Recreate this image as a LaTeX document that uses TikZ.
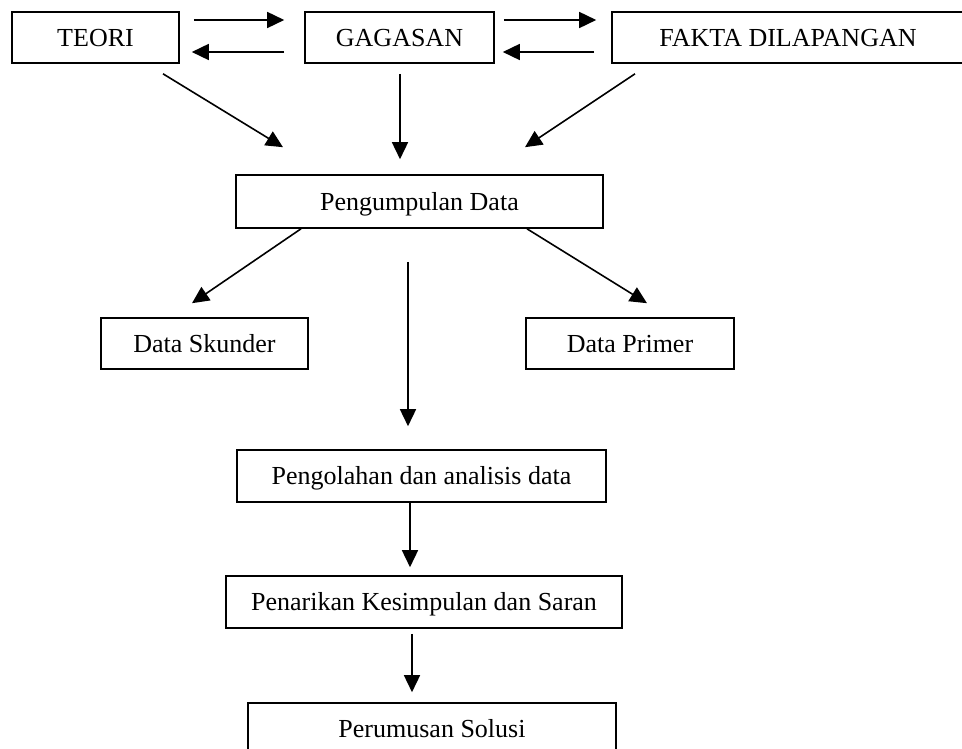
\documentclass[tikz,border=0pt]{standalone}
\usepackage{fontspec}
\setmainfont{Liberation Serif}
\usetikzlibrary{arrows.meta,calc}
\tikzset{
  box/.style={draw=black,line width=1.6pt,inner sep=0pt,minimum height=52pt,
    text height=17.2pt,text depth=0pt,font=\fontsize{26}{30}\selectfont},
  arr/.style={line width=1.6pt,-{Triangle[length=17pt,width=16pt]}}
}
\begin{document}
\begin{tikzpicture}[x=1pt,y=-1pt]
\useasboundingbox (0,0) rectangle (962,749);
\clip (0,0) rectangle (962,749);
\node[box,minimum width=167pt,minimum height=51pt] (teori) at (95.5,37.5) {TEORI};
\node[box,minimum width=189pt,minimum height=51pt] (gag) at (399.5,37.5) {GAGASAN};
\node[box,minimum width=352pt,minimum height=51pt] (fakta) at (788,37.5) {FAKTA DILAPANGAN};
\node[box,minimum width=367pt,minimum height=53pt] (pk) at (419.5,201.5) {Pengumpulan Data};
\node[box,minimum width=207pt,minimum height=51pt] (skunder) at (204.5,343.5) {Data Skunder};
\node[box,minimum width=208pt,minimum height=51pt] (primer) at (630,343.5) {Data Primer};
\node[box,minimum width=369pt] (olah) at (421.5,476) {Pengolahan dan analisis data};
\node[box,minimum width=396pt] (tarik) at (424,602) {Penarikan Kesimpulan dan Saran};
\node[box,minimum width=368pt] (rumus) at (432,729) {Perumusan Solusi};
% horizontal pairs
\draw[arr] ($(teori.east)+(14,-17.5)$) -- ($(gag.west)+(-20,-17.5)$);
\draw[arr] ($(gag.west)+(-20,14.5)$) -- ($(teori.east)+(12,14.5)$);
\draw[arr] ($(gag.east)+(9,-17.5)$) -- ($(fakta.west)+(-15,-17.5)$);
\draw[arr] ($(fakta.west)+(-17,14.5)$) -- ($(gag.east)+(8,14.5)$);
% into Pengumpulan Data
\draw[arr] ($(teori.south)+(67.5,10)$) -- ($(pk.north)+(-136.5,-27)$);
\draw[arr] ($(gag.south)+(0.5,10)$) -- ($(pk.north)+(-19.5,-15)$);
\draw[arr] ($(fakta.south)+(-153,10)$) -- ($(pk.north)+(105.5,-27)$);
% out of Pengumpulan Data
\draw[arr] ($(pk.south)+(-118.5,0)$) -- ($(skunder.north)+(-12.5,-14)$);
\draw[arr] ($(pk.south)+(107.5,0)$) -- ($(primer.north)+(17,-14)$);
\draw[arr] ($(pk.south)+(-11.5,33)$) -- ($(olah.north)+(-13.5,-23)$);
% lower chain
\draw[arr] ($(olah.south)+(-11.5,0)$) -- ($(tarik.north)+(-14,-8)$);
\draw[arr] ($(tarik.south)+(-12,5)$) -- ($(rumus.north)+(-20,-10)$);
\end{tikzpicture}
\end{document}
